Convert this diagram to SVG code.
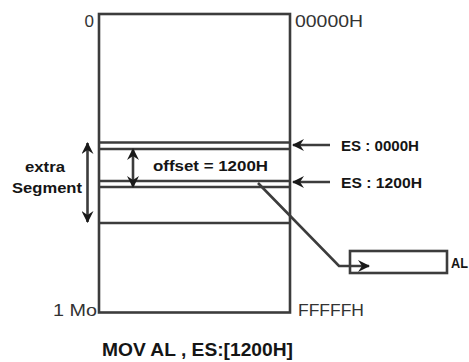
<svg xmlns="http://www.w3.org/2000/svg" width="469" height="362" viewBox="0 0 469 362">
<style>
.ln{stroke:#3c3c3c;stroke-width:2.6;fill:none}
.t{font-family:"Liberation Sans",Arial,sans-serif;font-weight:bold;fill:#151515}
.n{font-family:"Liberation Sans",Arial,sans-serif;fill:#333}
</style>
<defs>
<marker id="ah2" viewBox="0 0 12 12" refX="11" refY="6" markerWidth="12" markerHeight="12" orient="auto-start-reverse" markerUnits="userSpaceOnUse">
<path d="M0,0 L12,6 L0,12 L4,6 Z" fill="#1a1a1a"/>
</marker>
</defs>
<rect width="469" height="362" fill="#fff"/>
<g id="memory">
<rect class="ln" x="99" y="14" width="191" height="298.5"/>
<line class="ln" x1="99" y1="142.5" x2="290" y2="142.5"/>
<line class="ln" x1="99" y1="149" x2="290" y2="149"/>
<line class="ln" x1="99" y1="181" x2="290" y2="181"/>
<line class="ln" x1="99" y1="187" x2="290" y2="187"/>
<line class="ln" x1="99" y1="223" x2="290" y2="223"/>
<text class="n" x="94" y="27" font-size="17" text-anchor="end">0</text>
<text class="n" x="295" y="27" font-size="17" textLength="68" lengthAdjust="spacingAndGlyphs">00000H</text>
<text class="n" x="53" y="316" font-size="17" textLength="44" lengthAdjust="spacingAndGlyphs">1 Mo</text>
<text class="n" x="298" y="316" font-size="17" textLength="66" lengthAdjust="spacingAndGlyphs">FFFFFH</text>
</g>
<g id="extra-segment">
<text class="t" x="25" y="171.5" font-size="15" textLength="40" lengthAdjust="spacingAndGlyphs">extra</text>
<text class="t" x="12" y="193" font-size="15" textLength="70" lengthAdjust="spacingAndGlyphs">Segment</text>
</g>
<g id="offset">
<text class="t" x="153" y="170.5" font-size="15" textLength="115" lengthAdjust="spacingAndGlyphs">offset = 1200H</text>
</g>
<g id="es0">
<text class="t" x="341" y="150.5" font-size="15" textLength="78" lengthAdjust="spacingAndGlyphs">ES : 0000H</text>
</g>
<g id="es1200">
<text class="t" x="341" y="187.5" font-size="15" textLength="81" lengthAdjust="spacingAndGlyphs">ES : 1200H</text>
</g>
<g id="al">
<rect class="ln" x="350" y="251" width="97" height="22" stroke-width="2"/>
<text class="t" x="451" y="267.5" font-size="14" textLength="17" lengthAdjust="spacingAndGlyphs">AL</text>
</g>
<g id="instruction">
<text class="t" x="102" y="356" font-size="19" textLength="191" lengthAdjust="spacingAndGlyphs">MOV AL , ES:[1200H]</text>
</g>
<g id="connectors">
<line class="ln" x1="87.5" y1="143" x2="87.5" y2="222" marker-start="url(#ah2)" marker-end="url(#ah2)"/>
<line class="ln" x1="133" y1="149" x2="133" y2="187" marker-start="url(#ah2)" marker-end="url(#ah2)"/>
<line class="ln" x1="330" y1="145" x2="293" y2="145" marker-end="url(#ah2)"/>
<line class="ln" x1="330" y1="182" x2="293" y2="182" marker-end="url(#ah2)"/>
<polyline class="ln" points="258,183 339,266 369,266" marker-end="url(#ah2)"/>
</g>
</svg>
